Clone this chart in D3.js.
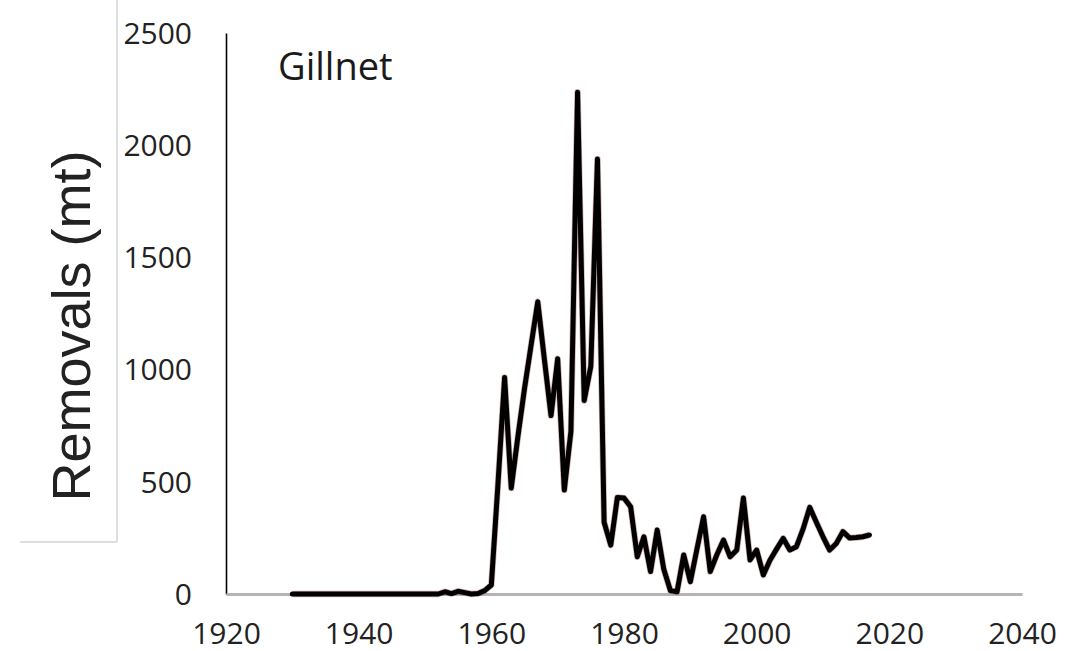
<!DOCTYPE html>
<meta charset="utf-8">
<style>
body { margin: 0; background: #fff; }

.axis text {
  font-family: "Open Sans", sans-serif;
  font-size: 30px;
  fill: #222;
}

.y.axis path {
  stroke: #000;
  stroke-width: 1.6px;
}

.x.axis path {
  stroke: #b4b4b4;
  stroke-width: 3px;
}

.removals {
  fill: none;
  stroke: #000;
  stroke-width: 5px;
  stroke-linejoin: round;
  stroke-linecap: round;
}

.removals-shadow {
  fill: none;
  stroke: #8a1c1c;
  stroke-opacity: 0.35;
  stroke-width: 6.4px;
  stroke-linejoin: round;
}

.frame {
  stroke: #d4d4d4;
  stroke-width: 1.5px;
}
</style>
<svg width="1076" height="651"></svg>

<script src="https://d3js.org/d3.v7.min.js"></script>
<script>

// removals by year (mt)
var years = [1930, 1931, 1932, 1933, 1934, 1935, 1936, 1937, 1938, 1939,
             1940, 1941, 1942, 1943, 1944, 1945, 1946, 1947, 1948, 1949,
             1950, 1951, 1952, 1953, 1954, 1955, 1956, 1957, 1958, 1959,
             1960, 1961, 1962, 1963, 1964, 1965, 1966, 1967, 1968, 1969,
             1970, 1971, 1972, 1973, 1974, 1975, 1976, 1977, 1978, 1979,
             1980, 1981, 1982, 1983, 1984, 1985, 1986, 1987, 1988, 1989,
             1990, 1991, 1992, 1993, 1994, 1995, 1996, 1997, 1998, 1999,
             2000, 2001, 2002, 2003, 2004, 2005, 2006, 2007, 2008, 2009,
             2010, 2011, 2012, 2013, 2014, 2015, 2016, 2017];

var removals = [0, 0, 0, 0, 0, 0, 0, 0, 0, 0,
                0, 0, 0, 0, 0, 0, 0, 0, 0, 0,
                0, 0, 0, 10, 2, 12, 6, 0, 2, 15,
                40, 490, 965, 472, 700, 915, 1110, 1302, 1045, 795,
                1048, 463, 725, 2236, 862, 1015, 1938, 320, 218, 430,
                428, 389, 166, 255, 100, 285, 110, 15, 10, 174,
                55, 200, 344, 100, 175, 240, 166, 196, 428, 152,
                196, 85, 150, 200, 248, 196, 211, 290, 386, 320,
                255, 196, 225, 278, 250, 252, 255, 263];

var yearTicks = [1920, 1940, 1960, 1980, 2000, 2020, 2040];
var valueTicks = [0, 500, 1000, 1500, 2000, 2500];

var svg = d3.select("svg");

var data = years.map(function(yr, i) { return {year: yr, value: removals[i]}; });

var x = d3.scaleLinear().domain([1920, 2040]).range([226, 1022]),
    y = d3.scaleLinear().domain([0, 2500]).range([594, 33]);

// leftover light frame on the left
svg.append("line")
    .attr("class", "frame")
    .attr("x1", 117).attr("y1", 0)
    .attr("x2", 117).attr("y2", 542);
svg.append("line")
    .attr("class", "frame")
    .attr("x1", 20).attr("y1", 542)
    .attr("x2", 117).attr("y2", 542);

svg.append("g")
    .attr("class", "y axis")
    .attr("transform", "translate(226,0)")
    .call(d3.axisLeft(y).tickValues(valueTicks).tickFormat(d3.format("d"))
        .tickSize(0).tickPadding(34))
    .call(function(g) {
      g.attr("font-size", null).attr("font-family", null);
      g.selectAll("text").attr("dy", "0.34em");
    });

svg.append("g")
    .attr("class", "x axis")
    .attr("transform", "translate(0,594)")
    .call(d3.axisBottom(x).tickValues(yearTicks).tickFormat(d3.format("d"))
        .tickSize(0).tickPadding(29))
    .call(function(g) { g.attr("font-size", null).attr("font-family", null); });

var line = d3.line()
    .x(function(d) { return x(d.year); })
    .y(function(d) { return y(d.value); });

svg.append("path")
    .datum(data)
    .attr("class", "removals-shadow")
    .attr("d", line);

svg.append("path")
    .datum(data)
    .attr("class", "removals")
    .attr("d", line);

svg.append("text")
    .attr("x", 278)
    .attr("y", 80)
    .style("font-family", "'Open Sans', sans-serif")
    .style("font-size", "38px")
    .style("fill", "#1a1a1a")
    .text("Gillnet");

svg.append("text")
    .attr("transform", "translate(90,326) rotate(-90)")
    .attr("text-anchor", "middle")
    .style("font-family", "'Liberation Sans', Arial, sans-serif")
    .style("font-size", "54px")
    .style("fill", "#222")
    .text("Removals (mt)");

</script>
